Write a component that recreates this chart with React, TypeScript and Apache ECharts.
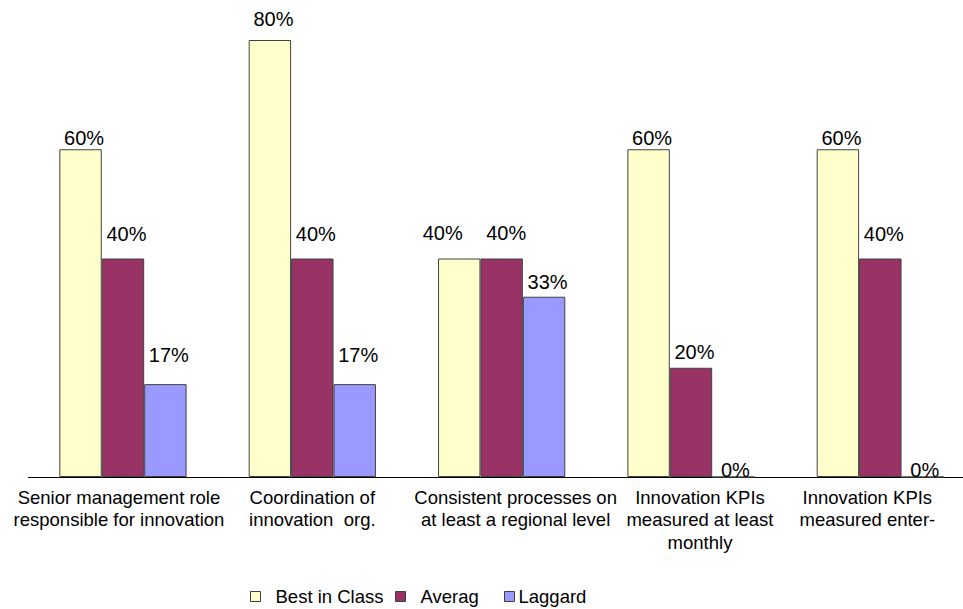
import React, { useEffect, useRef } from "react";
import * as echarts from "echarts";

const categories = [
  "Senior management role\nresponsible for innovation",
  "Coordination of\ninnovation  org.",
  "Consistent processes on\nat least a regional level",
  "Innovation KPIs\nmeasured at least\nmonthly",
  "Innovation KPIs\nmeasured enter-",
];
const seriesNames = ["Best in Class", "Averag", "Laggard"];
const bestInClass = [60, 80, 40, 60, 60];
const average = [40, 40, 40, 20, 40];
const laggard = [17, 17, 33, 0, 0];

// label placement (gap from bar top to text baseline, horizontal nudge) as in the source
const labelGapBest = [4, 14, 18.5, 4, 4];
const labelGapAvg = [18, 18, 18.5, 9, 18];
const labelGapLag = [22, 22, 8, 0, 0];
const labelDxBest = [3.5, 3.5, -16.5, 3.5, 3.5];
const labelDxAvg = [3.5, 3.5, 4.5, 3.5, 3.5];
const labelDxLag = [3.5, 3.5, 3.5, 2, 2];
// horizontal nudge of each category's text block
const catLabelDx = [-4, 0, 14, 9, -13];

const colors = ["#FFFFCC", "#993366", "#9999FF"];
const FONT = "'Liberation Sans', Arial, sans-serif";

export default function App() {
  const ref = useRef<HTMLDivElement>(null);
  useEffect(() => {
    if (!ref.current) return;
    const chart = echarts.init(ref.current, undefined, { renderer: "svg" });
    const build = (vals: number[], gaps: number[], dxs: number[]) =>
      vals.map((v, i) => ({
        value: v,
        label: { distance: gaps[i] - 3, offset: [dxs[i], 0] },
      }));
    const all = [
      build(bestInClass, labelGapBest, labelDxBest),
      build(average, labelGapAvg, labelDxAvg),
      build(laggard, labelGapLag, labelDxLag),
    ];
    const legendLefts = [[250, 15], [395, 15], [504, 4]];
    chart.setOption({
      animation: false,
      textStyle: { fontFamily: FONT },
      grid: { left: 28.3, right: 1, top: 40, bottom: 132, containLabel: false },
      legend: seriesNames.map((n, i) => ({
        data: [n],
        left: legendLefts[i][0],
        top: 587,
        icon: "rect",
        itemWidth: 10,
        itemHeight: 10,
        itemGap: 0,
        padding: 0,
        selectedMode: false,
        textStyle: {
          fontFamily: FONT,
          fontSize: 18.5,
          color: "#000",
          padding: [0, 0, 0, legendLefts[i][1] - 5],
        },
        itemStyle: { borderColor: "#404040", borderWidth: 1 },
      })),
      xAxis: {
        type: "category",
        data: categories.map((c, i) => ({
          value: c,
          textStyle: {
            padding: catLabelDx[i] >= 0 ? [0, 0, 0, 2 * catLabelDx[i]] : [0, -2 * catLabelDx[i], 0, 0],
          },
        })),
        axisLine: { lineStyle: { color: "#000", width: 1 } },
        axisTick: { length: 6, lineStyle: { color: "#000" } },
        axisLabel: {
          interval: 0,
          color: "#000",
          fontFamily: FONT,
          fontSize: 18.5,
          lineHeight: 22.5,
          margin: 9,
        },
      },
      yAxis: { type: "value", min: 0, max: 80, show: false },
      series: seriesNames.map((n, i) => ({
        name: n,
        type: "bar",
        data: all[i],
        barGap: "0%",
        barCategoryGap: "32.8%",
        itemStyle: { color: colors[i], borderColor: "#404040", borderWidth: 1 },
        label: {
          show: true,
          position: "top",
          formatter: "{c}%",
          color: "#000",
          fontFamily: FONT,
          fontSize: 20,
          lineHeight: 20,
        },
      })),
    });
    return () => chart.dispose();
  }, []);
  return (
    <div
      style={{
        position: "absolute",
        left: 0,
        top: 0,
        width: 963,
        height: 609,
        overflow: "hidden",
      }}
    >
      <div ref={ref} style={{ width: 976, height: 609 }} />
    </div>
  );
}
